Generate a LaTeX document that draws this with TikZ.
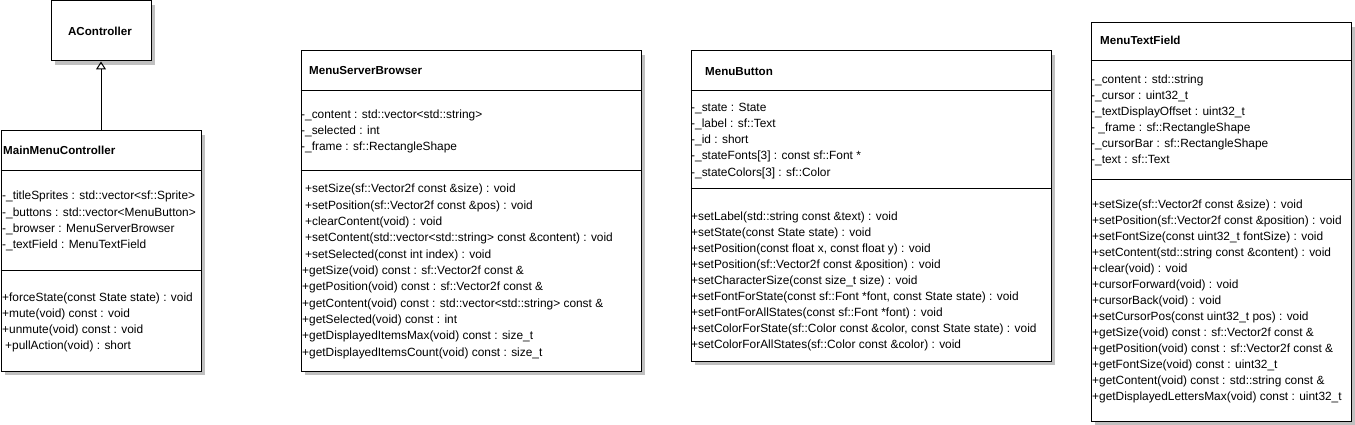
\documentclass[tikz,border=0pt]{standalone}
\usepackage{fontspec}
\setmainfont{Liberation Sans}
\usetikzlibrary{arrows.meta,shadows}
\definecolor{shadowgray}{RGB}{192,192,192}
\tikzset{
  classbox/.style={draw=black, line width=1pt, fill=white, anchor=north west, inner sep=0pt,
    drop shadow={shadow xshift=4pt, shadow yshift=-4pt, fill=shadowgray, opacity=1}},
  txt/.style={anchor=base west, inner sep=0pt, font=\fontsize{11.9}{13}\selectfont},
  ttl/.style={anchor=base west, inner sep=0pt, font=\fontsize{11.6}{13}\selectfont\bfseries},
  divider/.style={line width=1pt},
  inherit/.style={line width=1pt, -{Triangle[open, length=8pt, width=10pt, line width=1pt]}},
}
\newcommand\classtext[5]{%
  \foreach \lineitem [count=\i] in {#5} {\node[txt] (#1-\i) at (#2,{#3+#4*(\i-1)}) {\lineitem};}%
}
\begin{document}
\begin{tikzpicture}[x=1pt,y=-1pt]
\useasboundingbox (0,0) rectangle (1355,425);

% AController
\node[classbox, minimum width=100pt, minimum height=60pt] (actrl) at (50.5,0.5) {};
\node[anchor=center, inner sep=0pt, font=\fontsize{11.6}{13}\selectfont\bfseries] (actrl-t) at (100,31) {AController};

% MainMenuController
\node[classbox, minimum width=200pt, minimum height=240pt] (mmc) at (0.5,130.5) {};
\coordinate (mmc-d1) at (0.5,170.5);
\coordinate (mmc-d2) at (0.5,270.5);
\draw[divider] (mmc-d1) -- (mmc-d1 -| mmc.east);
\draw[divider] (mmc-d2) -- (mmc-d2 -| mmc.east);
\node[ttl] (mmc-t) at (3,154) {MainMenuController};
\classtext{mmca}{2}{200}{16}{{-\_titleSprites : std::vector<sf::Sprite>},{-\_buttons : std::vector<MenuButton>},{-\_browser : MenuServerBrowser},{-\_textField : MenuTextField}}
\classtext{mmcm}{2}{301}{16}{{+forceState(const State state) : void},{+mute(void) const : void},{+unmute(void) const : void},{\hspace*{3pt}+pullAction(void) : short}}

\draw[inherit] (mmc.north) -- (actrl.south);

% MenuServerBrowser
\node[classbox, minimum width=340pt, minimum height=320pt] (msb) at (300.5,50.5) {};
\coordinate (msb-d1) at (300.5,90.5);
\coordinate (msb-d2) at (300.5,170.5);
\draw[divider] (msb-d1) -- (msb-d1 -| msb.east);
\draw[divider] (msb-d2) -- (msb-d2 -| msb.east);
\node[ttl] (msb-t) at (309,75) {MenuServerBrowser};
\classtext{msba}{301}{119}{16}{{-\_content : std::vector<std::string>},{-\_selected : int},{-\_frame : sf::RectangleShape}}
\classtext{msbm}{302}{193}{16.3}{{\hspace*{3pt}+setSize(sf::Vector2f const \&size) : void},{\hspace*{3pt}+setPosition(sf::Vector2f const \&pos) : void},{\hspace*{3pt}+clearContent(void) : void},{\hspace*{3pt}+setContent(std::vector<std::string> const \&content) : void},{\hspace*{3pt}+setSelected(const int index) : void},{+getSize(void) const : sf::Vector2f const \&},{+getPosition(void) const : sf::Vector2f const \&},{+getContent(void) const : std::vector<std::string> const \&},{+getSelected(void) const : int},{+getDisplayedItemsMax(void) const : size\_t},{+getDisplayedItemsCount(void) const : size\_t}}

% MenuButton
\node[classbox, minimum width=360pt, minimum height=310pt] (mb) at (690.5,50.5) {};
\coordinate (mb-d1) at (690.5,90.5);
\coordinate (mb-d2) at (690.5,188.5);
\draw[divider] (mb-d1) -- (mb-d1 -| mb.east);
\draw[divider] (mb-d2) -- (mb-d2 -| mb.east);
\node[ttl] (mb-t) at (705,76) {MenuButton};
\classtext{mba}{691}{112}{16}{{-\_state : State},{-\_label : sf::Text},{-\_id : short},{-\_stateFonts[3] : const sf::Font *},{-\_stateColors[3] : sf::Color}}
\classtext{mbm}{691}{220}{16.1}{{+setLabel(std::string const \&text) : void},{+setState(const State state) : void},{+setPosition(const float x, const float y) : void},{+setPosition(sf::Vector2f const \&position) : void},{+setCharacterSize(const size\_t size) : void},{+setFontForState(const sf::Font *font, const State state) : void},{+setFontForAllStates(const sf::Font *font) : void},{+setColorForState(sf::Color const \&color, const State state) : void},{+setColorForAllStates(sf::Color const \&color) : void}}

% MenuTextField
\node[classbox, minimum width=260pt, minimum height=398pt] (mtf) at (1090.5,22.5) {};
\coordinate (mtf-d1) at (1090.5,60.5);
\coordinate (mtf-d2) at (1090.5,179.5);
\draw[divider] (mtf-d1) -- (mtf-d1 -| mtf.east);
\draw[divider] (mtf-d2) -- (mtf-d2 -| mtf.east);
\node[ttl] (mtf-t) at (1100,45) {MenuTextField};
\classtext{mtfa}{1091}{84}{16}{{-\_content : std::string},{-\_cursor : uint32\_t},{-\_textDisplayOffset : uint32\_t},{-\ \_frame : sf::RectangleShape},{-\_cursorBar : sf::RectangleShape},{-\_text : sf::Text}}
\classtext{mtfm}{1092}{208}{16}{{+setSize(sf::Vector2f const \&size) : void},{+setPosition(sf::Vector2f const \&position) : void},{+setFontSize(const uint32\_t fontSize) : void},{+setContent(std::string const \&content) : void},{+clear(void) : void},{+cursorForward(void) : void},{+cursorBack(void) : void},{+setCursorPos(const uint32\_t pos) : void},{+getSize(void) const : sf::Vector2f const \&},{+getPosition(void) const : sf::Vector2f const \&},{+getFontSize(void) const : uint32\_t},{+getContent(void) const : std::string const \&},{+getDisplayedLettersMax(void) const : uint32\_t}}
\end{tikzpicture}
\end{document}
